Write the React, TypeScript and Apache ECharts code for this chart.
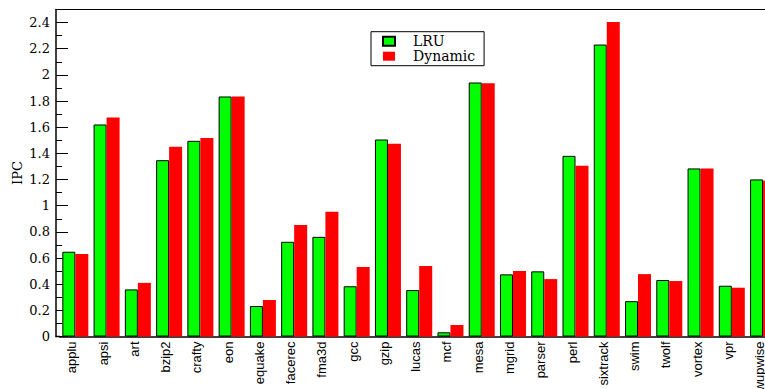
import React, { useEffect, useRef } from 'react';
import * as echarts from 'echarts';

const categories = ['applu', 'apsi', 'art', 'bzip2', 'crafty', 'eon', 'equake', 'facerec', 'fma3d', 'gcc', 'gzip', 'lucas', 'mcf', 'mesa', 'mgrid', 'parser', 'perl', 'sixtrack', 'swim', 'twolf', 'vortex', 'vpr', 'wupwise'];
const lruValues = [0.648, 1.621, 0.36, 1.348, 1.496, 1.835, 0.233, 0.724, 0.762, 0.384, 1.506, 0.355, 0.032, 1.942, 0.475, 0.498, 1.381, 2.232, 0.27, 0.432, 1.285, 0.388, 1.201];
const dynamicValues = [0.63, 1.675, 0.41, 1.45, 1.518, 1.835, 0.279, 0.852, 0.953, 0.531, 1.474, 0.539, 0.088, 1.937, 0.5, 0.439, 1.305, 2.405, 0.477, 0.424, 1.285, 0.373, 1.19];
const seriesNames = ['LRU', 'Dynamic'];
const yMin = 0;
const yMax = 2.5;
const yMajor = 0.2;
const yMinor = 0.1;

export default function App() {
  const ref = useRef<HTMLDivElement>(null);
  useEffect(() => {
    const chart = echarts.init(ref.current!, null, { renderer: 'svg' });
    chart.setOption({
      animation: false,
      backgroundColor: '#ffffff',
      grid: { left: 59.7, top: 9.5, bottom: 52.5, right: 21.3, containLabel: false, outerBoundsMode: 'none' },
      legend: {
        data: seriesNames,
        left: 371,
        top: 31.7,
        orient: 'vertical',
        icon: 'rect',
        itemWidth: 12,
        itemHeight: 9,
        itemGap: 0,
        borderColor: '#000',
        borderWidth: 1,
        padding: [2, 9, 2, 11],
        textStyle: { fontFamily: 'DejaVu Serif', fontSize: 14, color: '#000', lineHeight: 15, padding: [0, 0, 0, 13] },
      },
      xAxis: {
        type: 'category',
        data: categories,
        axisLine: { lineStyle: { color: '#000', width: 1.5 } },
        axisTick: { show: false },
        axisLabel: { rotate: 90, margin: 5, interval: 0, fontFamily: 'Liberation Sans', fontSize: 13, color: '#000', verticalAlign: 'bottom', lineHeight: 7 },
        splitLine: { show: false },
      },
      yAxis: [
        {
          type: 'value',
          min: yMin,
          max: yMax,
          interval: yMajor,
          offset: 3.7,
          axisLine: { show: true, lineStyle: { color: '#000', width: 1.5 } },
          axisTick: { show: true, inside: true, length: 12, lineStyle: { color: '#000', width: 1 } },
          axisLabel: { showMaxLabel: false, fontFamily: 'DejaVu Serif', fontSize: 13, color: '#000', margin: 6 },
          splitLine: { show: false },
          name: 'IPC',
          nameLocation: 'middle',
          nameGap: 32,
          nameMoveOverlap: false,
          nameRotate: 90,
          nameTextStyle: { fontFamily: 'DejaVu Serif', fontSize: 13, color: '#000' },
        },
        {
          type: 'value',
          min: yMin,
          max: yMax,
          interval: yMinor,
          offset: 3.7,
          position: 'left',
          axisLine: { show: false },
          axisTick: { show: true, inside: true, length: 6, lineStyle: { color: '#000', width: 1 } },
          axisLabel: { show: false },
          splitLine: { show: false },
        },
      ],
      graphic: [
        { type: 'line', shape: { x1: 55.5, y1: 9.5, x2: 800, y2: 9.5 }, style: { stroke: '#000', lineWidth: 1.2 } },
        { type: 'line', shape: { x1: 55.5, y1: 336.5, x2: 60, y2: 336.5 }, style: { stroke: '#000', lineWidth: 1.5 } },
      ],
      series: [
        {
          name: seriesNames[0],
          type: 'bar',
          data: lruValues,
          barWidth: 13,
          barGap: '0%',
          itemStyle: { color: '#00ff00', borderColor: '#000', borderWidth: 1 },
        },
        {
          name: seriesNames[1],
          type: 'bar',
          data: dynamicValues,
          barWidth: 13,
          barGap: '0%',
          itemStyle: { color: '#ff0000' },
        },
      ],
    });
    return () => chart.dispose();
  }, []);
  return (
    <div style={{ position: 'fixed', left: 0, top: 0, width: 765, height: 389, overflow: 'hidden', background: '#fff' }}>
      <div ref={ref} style={{ width: 800, height: 389 }} />
    </div>
  );
}
